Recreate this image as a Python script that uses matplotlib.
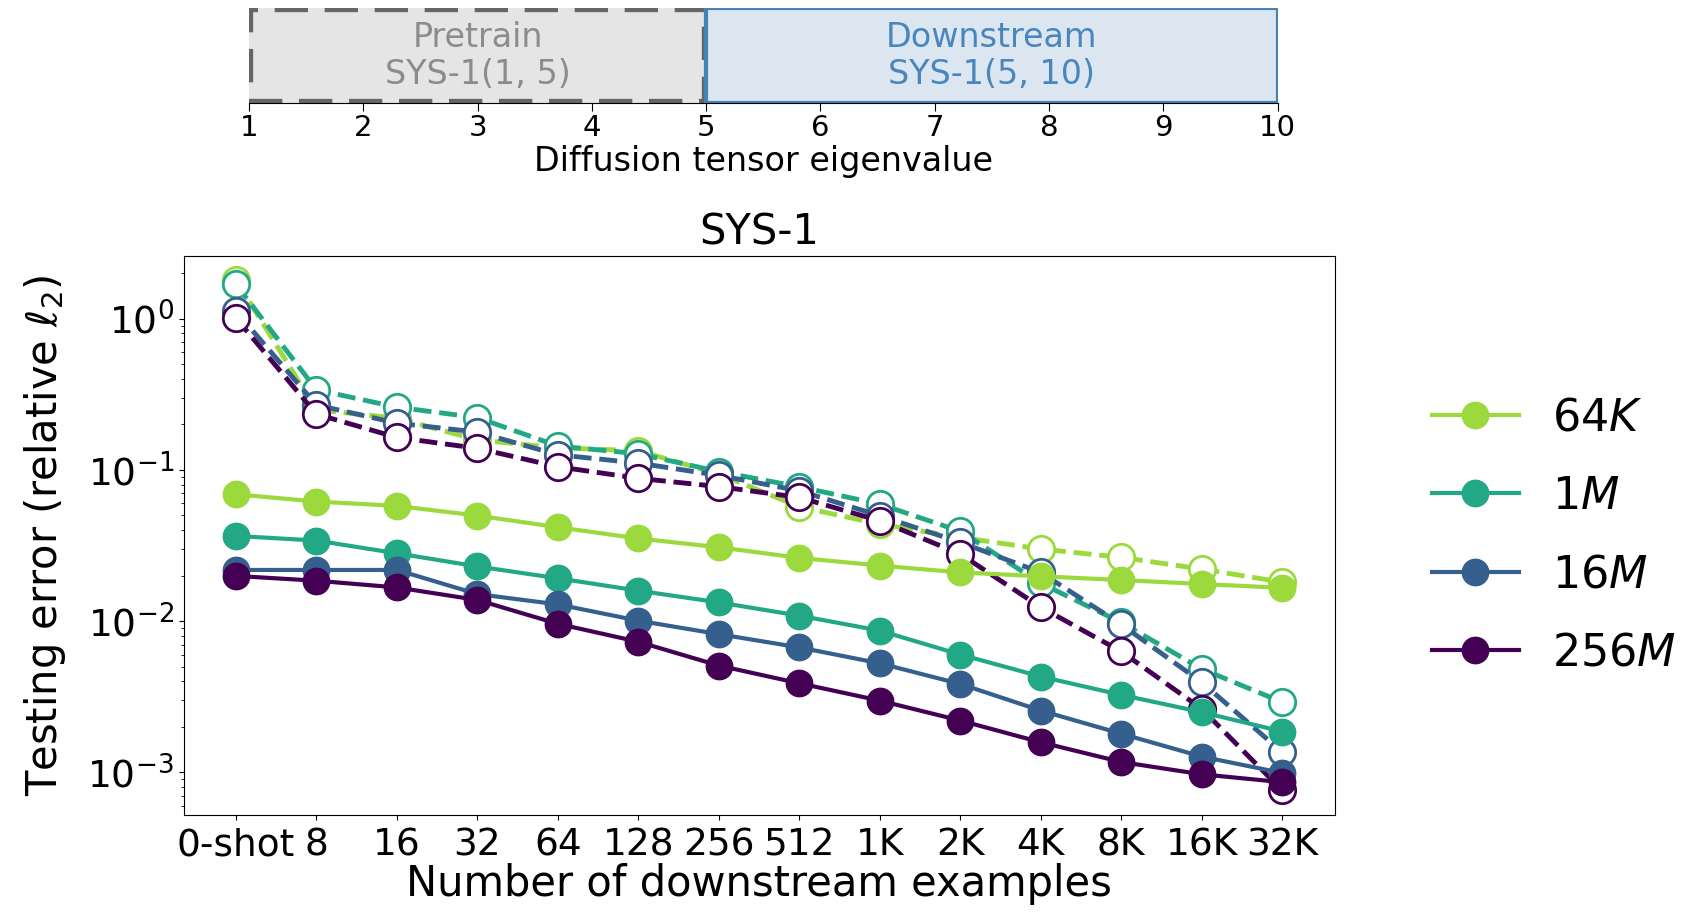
import numpy as np
import matplotlib
matplotlib.use('Agg')
import matplotlib.pyplot as plt
from matplotlib.patches import Rectangle

# data
shots = ['0-shot', '8', '16', '32', '64', '128', '256', '512', '1K', '2K', '4K', '8K', '16K', '32K']
labels = ['64$K$', '1$M$', '16$M$', '256$M$']

# fine-tuned from pretrained (solid, filled)
ft_64k = [0.069, 0.0618, 0.0578, 0.0499, 0.0418, 0.0352, 0.0308, 0.0262, 0.0233, 0.0210, 0.0198, 0.0187, 0.0176, 0.0166]
ft_1m = [0.0366, 0.0341, 0.0281, 0.0230, 0.0192, 0.0159, 0.0133, 0.01087, 0.00865, 0.00601, 0.0043, 0.00325, 0.0025, 0.00186]
ft_16m = [0.0218, 0.0218, 0.0218, 0.0151, 0.0129, 0.01007, 0.0082, 0.0067, 0.00526, 0.00384, 0.00256, 0.0018, 0.00127, 0.00099]
ft_256m = [0.0199, 0.0185, 0.0167, 0.0138, 0.0096, 0.0073, 0.00508, 0.00388, 0.00298, 0.0022, 0.00158, 0.00117, 0.00097, 0.00086]

# dashed, open markers
tl_64k = [1.81, 0.25, 0.22, 0.158, 0.14, 0.134, 0.094, 0.0571, 0.0438, 0.0358, 0.030, 0.0264, 0.0221, 0.0181]
tl_1m = [1.69, 0.339, 0.260, 0.222, 0.144, 0.128, 0.0975, 0.0774, 0.0594, 0.0393, 0.0178, 0.0098, 0.00483, 0.00291]
tl_16m = [1.12, 0.269, 0.204, 0.178, 0.126, 0.111, 0.092, 0.0728, 0.0498, 0.0332, 0.0210, 0.0095, 0.00394, 0.00136]
tl_256m = [1.01, 0.234, 0.164, 0.139, 0.105, 0.088, 0.0776, 0.0658, 0.0461, 0.0278, 0.01236, 0.0063, 0.00263, 0.00076]

solid = [ft_64k, ft_1m, ft_16m, ft_256m]
dashed = [tl_64k, tl_1m, tl_16m, tl_256m]
colors = [plt.cm.viridis(v) for v in [0.85, 0.6, 0.3, 0.0]]

fig = plt.figure(figsize=(17, 9.16), dpi=100)

# top strip: eigenvalue ranges
ax0 = fig.add_axes([0.1465, 0.8875, 0.605, 0.1035])
ax0.add_patch(Rectangle((1, 0), 4, 1, facecolor='#e5e5e5', edgecolor='#666666',
                        lw=6, ls=(0, (4, 2)), zorder=1))
ax0.add_patch(Rectangle((5, 0), 5, 1, facecolor='#dbe6f1', edgecolor='#4682b4',
                        lw=3, zorder=2))
ax0.text(3, 0.5, 'Pretrain\nSYS-1(1, 5)', ha='center', va='center', color='#8c8c8c',
         fontsize=24, linespacing=1.15)
ax0.text(7.5, 0.5, 'Downstream\nSYS-1(5, 10)', ha='center', va='center', color='#4a86bd',
         fontsize=24, linespacing=1.15)
ax0.set_xlim(1, 10)
ax0.set_ylim(0, 1)
ax0.set_yticks([])
ax0.set_xticks(range(1, 11))
ax0.tick_params(axis='x', labelsize=21, length=6, pad=2)
for s in ['left', 'right', 'top']:
    ax0.spines[s].set_visible(False)
ax0.set_xlabel('Diffusion tensor eigenvalue', fontsize=24, labelpad=2)

# main plot
ax = fig.add_axes([0.108, 0.110, 0.677, 0.6105])
x = np.arange(len(shots))
for ys, c in zip(dashed, colors):
    ax.plot(x, ys, ls='--', color=c, lw=3.5, marker='o', ms=19,
            mfc='white', mec=c, mew=2)
handles = []
for ys, c, lab in zip(solid, colors, labels):
    h, = ax.plot(x, ys, ls='-', color=c, lw=3, marker='o', ms=19, label=lab)
    handles.append(h)

ax.set_yscale('log')
ax.set_ylim(5.2e-4, 2.6)
ax.set_xticks(x)
ax.set_xticklabels(shots)
ax.tick_params(axis='both', labelsize=27)
ax.tick_params(axis='x', pad=5)
ax.set_title('SYS-1', fontsize=30, pad=8)
ax.set_xlabel('Number of downstream examples', fontsize=30, labelpad=0)
ax.set_ylabel(r'Testing error (relative $\ell_2$)', fontsize=30, labelpad=14)

ax.legend(handles=handles, loc='center left', bbox_to_anchor=(1.05, 0.5), frameon=False,
          fontsize=32, handlelength=1.95, labelspacing=0.8, handletextpad=0.75)

fig.savefig('out.png', dpi=100)
